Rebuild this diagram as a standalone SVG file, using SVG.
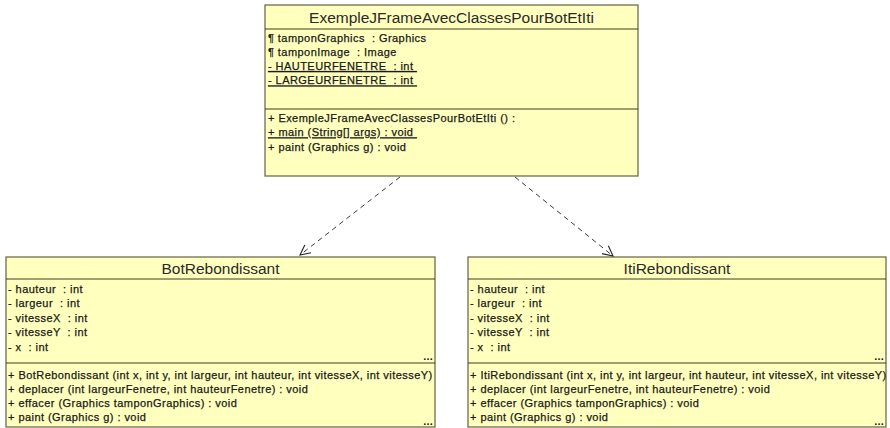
<svg xmlns="http://www.w3.org/2000/svg" width="890" height="428" viewBox="0 0 890 428">
<defs>
<style>
.box{fill:#FFFFBE;stroke:#6E6E50;stroke-width:1.3}
.sep{stroke:#3C3C1E;stroke-width:1}
.title{font-family:"Liberation Sans",Arial,sans-serif;font-size:15.5px;fill:#2a2a2a;text-anchor:middle}
.m{font-family:"Liberation Sans",Arial,sans-serif;font-size:11px;letter-spacing:0.45px;fill:#1a1a1a;stroke:#1a1a1a;stroke-width:0.25px;white-space:pre}
.u{text-decoration:underline}
.dots{font-family:"Liberation Sans",Arial,sans-serif;font-size:11px;font-weight:bold;fill:#1a1a1a;text-anchor:end;letter-spacing:0.2px}
.dep{fill:none;stroke:#3a3a3a;stroke-width:1;stroke-dasharray:5 4}
</style>
<marker id="open" viewBox="0 0 12 12" refX="11" refY="6" markerWidth="12" markerHeight="12" markerUnits="userSpaceOnUse" orient="auto">
<path d="M1,1 L11,6 L1,11" fill="none" stroke="#222" stroke-width="1.1"/>
</marker>
<clipPath id="clipR"><rect x="468" y="257" width="418" height="170"/></clipPath>
</defs>

<g id="ExempleJFrameAvecClassesPourBotEtIti">
<rect class="box" x="265" y="5" width="373" height="171"/>
<line class="sep" x1="265" y1="29" x2="638" y2="29"/>
<line class="sep" x1="265" y1="109" x2="638" y2="109"/>
<text class="title" x="451.5" y="22.5">ExempleJFrameAvecClassesPourBotEtIti</text>
<text class="m" x="268" y="41.5">¶ tamponGraphics  : Graphics</text>
<text class="m" x="268" y="55.8">¶ tamponImage  : Image</text>
<text class="m u" x="268" y="70">- HAUTEURFENETRE  : int </text>
<text class="m u" x="268" y="84.4">- LARGEURFENETRE  : int </text>
<text class="m" x="268" y="122">+ ExempleJFrameAvecClassesPourBotEtIti () :</text>
<text class="m u" x="268" y="136.3">+ main (String[] args) : void </text>
<text class="m" x="268" y="150.6">+ paint (Graphics g) : void</text>
</g>

<g id="BotRebondissant">
<rect class="box" x="6" y="257" width="429" height="170"/>
<line class="sep" x1="6" y1="279" x2="435" y2="279"/>
<line class="sep" x1="6" y1="363" x2="435" y2="363"/>
<text class="title" x="220.5" y="274">BotRebondissant</text>
<text class="m" x="8" y="292.5">- hauteur  : int</text>
<text class="m" x="8" y="307">- largeur  : int</text>
<text class="m" x="8" y="321.5">- vitesseX  : int</text>
<text class="m" x="8" y="336">- vitesseY  : int</text>
<text class="m" x="8" y="350.5">- x  : int</text>
<text class="dots" x="433" y="360">...</text>
<text class="m" x="8" y="378.5">+ BotRebondissant (int x, int y, int largeur, int hauteur, int vitesseX, int vitesseY)</text>
<text class="m" x="8" y="392.5">+ deplacer (int largeurFenetre, int hauteurFenetre) : void</text>
<text class="m" x="8" y="406.5">+ effacer (Graphics tamponGraphics) : void</text>
<text class="m" x="8" y="420.5">+ paint (Graphics g) : void</text>
<text class="dots" x="433" y="425">...</text>
</g>

<g id="ItiRebondissant">
<rect class="box" x="468" y="257" width="418" height="170"/>
<line class="sep" x1="468" y1="279" x2="886" y2="279"/>
<line class="sep" x1="468" y1="363" x2="886" y2="363"/>
<text class="title" x="677" y="274">ItiRebondissant</text>
<text class="m" x="470" y="292.5">- hauteur  : int</text>
<text class="m" x="470" y="307">- largeur  : int</text>
<text class="m" x="470" y="321.5">- vitesseX  : int</text>
<text class="m" x="470" y="336">- vitesseY  : int</text>
<text class="m" x="470" y="350.5">- x  : int</text>
<text class="dots" x="884" y="360">...</text>
<text class="m" x="470" y="378.5" clip-path="url(#clipR)">+ ItiRebondissant (int x, int y, int largeur, int hauteur, int vitesseX, int vitesseY)</text>
<text class="m" x="470" y="392.5">+ deplacer (int largeurFenetre, int hauteurFenetre) : void</text>
<text class="m" x="470" y="406.5">+ effacer (Graphics tamponGraphics) : void</text>
<text class="m" x="470" y="420.5">+ paint (Graphics g) : void</text>
<text class="dots" x="884" y="425">...</text>
</g>

<g id="connectors">
<line class="dep" x1="400" y1="177" x2="300" y2="255" marker-end="url(#open)"/>
<line class="dep" x1="515" y1="177" x2="613" y2="256" marker-end="url(#open)"/>
</g>
</svg>
